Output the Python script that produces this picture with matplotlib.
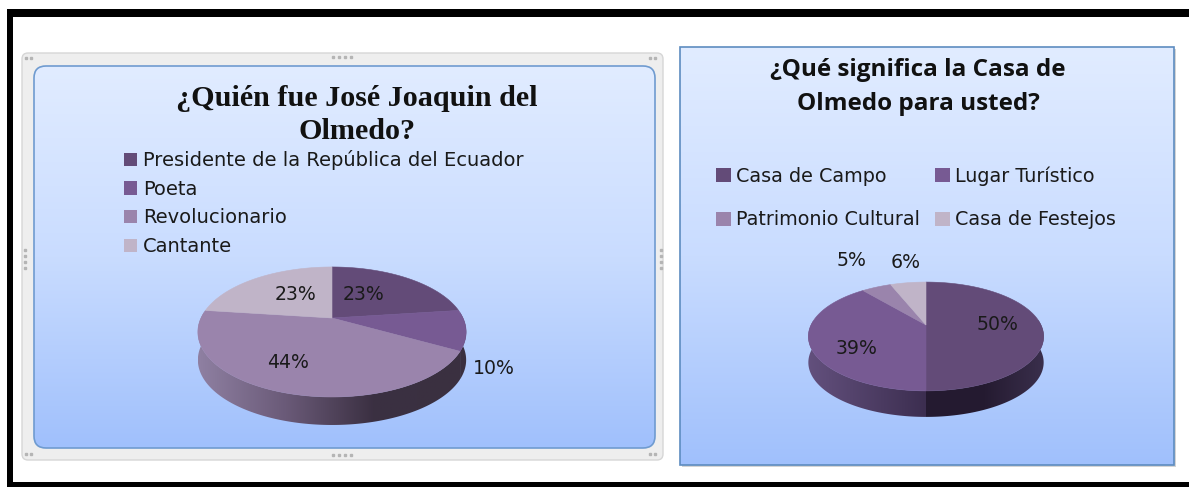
import numpy as np
import matplotlib
matplotlib.use("Agg")
import matplotlib.pyplot as plt
from matplotlib.colors import LinearSegmentedColormap
from matplotlib.patches import FancyBboxPatch, PathPatch, Rectangle, Polygon
from matplotlib.path import Path

# ---- data ----
left_title = "¿Quién fue José Joaquin del\nOlmedo?"
left_labels = ["Presidente de la República del Ecuador", "Poeta", "Revolucionario", "Cantante"]
left_values = [23, 10, 44, 23]
right_title = "¿Qué significa la Casa de\nOlmedo para usted?"
right_labels = ["Casa de Campo", "Lugar Turístico", "Patrimonio Cultural", "Casa de Festejos"]
right_values = [50, 39, 5, 6]

# ---- style ----
slice_colors = ["#634b78", "#775a93", "#9a84ac", "#c0b4c8"]
W, H = 1189, 487
fig = plt.figure(figsize=(W / 100, H / 100), dpi=100, facecolor="white")
ax = fig.add_axes([0, 0, 1, 1])
bg_cmap = LinearSegmentedColormap.from_list("bg", ["#e1ecff", "#c9dcff", "#a0c0fc"])
ramp = np.linspace(0, 1, 256).reshape(-1, 1)


def gradient_panel(x0, y0, x1, y1, rounding, edge):
    if rounding:
        patch = FancyBboxPatch((x0 + rounding, y0 + rounding), x1 - x0 - 2 * rounding, y1 - y0 - 2 * rounding,
                               boxstyle=f"round,pad={rounding},rounding_size={rounding}",
                               fc="none", ec=edge, lw=1.2, zorder=3)
    else:
        patch = Rectangle((x0, y0), x1 - x0, y1 - y0, fc="none", ec=edge, lw=1.2, zorder=3)
    ax.add_patch(patch)
    im = ax.imshow(ramp, extent=(x0, x1, y1, y0), cmap=bg_cmap, aspect="auto", zorder=2)
    im.set_clip_path(patch)


def pie3d(values, labels, cx, apex_y, half_w, persp, scale_y, depth, wall_colors, text_pos):
    wedges, _ = ax.pie(values, startangle=90, counterclock=False, colors=slice_colors, normalize=True)
    spans = [(w.theta1, w.theta2) for w in wedges]
    for w in wedges:
        w.remove()

    def project(t):
        u, v = np.cos(np.radians(t)), np.sin(np.radians(t))
        d = 1 + persp * v
        return cx + half_w * u / d, apex_y - scale_y * v / d

    # side wall, one clipped gradient per slice
    for (t1, t2), cols in zip(spans, wall_colors):
        if cols is None:
            continue
        t = np.linspace(t1, t2, 240)
        t = t[np.sin(np.radians(t)) < 0.1]
        px, py = project(t)
        verts = np.r_[np.c_[px, py], np.c_[px, py + depth][::-1]]
        poly = Polygon(verts, closed=True, fc="none", ec="none", zorder=4)
        ax.add_patch(poly)
        cm = LinearSegmentedColormap.from_list("wall", cols)
        im = ax.imshow(np.linspace(0, 1, 256).reshape(1, -1), cmap=cm, aspect="auto", zorder=4,
                       extent=(px.min(), px.max(), py.max() + depth, py.min()))
        im.set_clip_path(poly)

    # top faces
    for (t1, t2), col in zip(spans, slice_colors):
        t = np.linspace(t1, t2, 160)
        px, py = project(t)
        verts = np.r_[[[cx, apex_y]], np.c_[px, py], [[cx, apex_y]]]
        codes = [Path.MOVETO] + [Path.LINETO] * (len(verts) - 2) + [Path.CLOSEPOLY]
        ax.add_patch(PathPatch(Path(verts, codes), fc=col, ec=col, lw=0.4, zorder=5))

    for v, (x, y) in zip(values, text_pos):
        ax.text(x, y, f"{v}%", ha="center", va="center", fontsize=13.6, color="#1a1a1a", zorder=6)


# outer black frame
for r in [(6.5, 9, W - 6.5, 8), (6.5, 9, 6.5, H - 9), (6.5, 482, W - 6.5, 5)]:
    ax.add_patch(Rectangle((r[0], r[1]), r[2], r[3], fc="black", ec="none", zorder=1))

# left chart: grey selection frame and blue plot area
ax.add_patch(FancyBboxPatch((28, 59), 629, 395, boxstyle="round,pad=6,rounding_size=6",
                            fc="#eeeeee", ec="#d6d6d6", lw=1, zorder=1))
gradient_panel(34, 66, 655, 448, 12, "#6f9bd0")
for x0, y0, n, dx, dy in [(333, 57, 4, 6, 0), (333, 455, 4, 6, 0), (25, 250, 4, 0, 6), (661, 250, 4, 0, 6),
                          (26, 58, 2, 5, 0), (650, 58, 2, 5, 0), (26, 454, 2, 5, 0), (650, 454, 2, 5, 0)]:
    ax.plot([x0 + i * dx for i in range(n)], [y0 + i * dy for i in range(n)], ls="none", marker="s",
            ms=1.5, color="#b5b5b5", zorder=3)

# right chart panel with soft shadow
ax.add_patch(Rectangle((682, 49), 494, 418, fc="#d4d4d4", ec="none", zorder=1))
gradient_panel(680, 47, 1174, 465, 0, "#5d8cc0")

# titles
ax.text(357, 115, left_title, ha="center", va="center", fontsize=21.7, fontweight="bold",
        family="Liberation Serif", color="#111111", linespacing=1.3, zorder=6)
ax.text(918, 87, right_title, ha="center", va="center", fontsize=17.5, fontweight="bold",
        family="Open Sans", color="#111111", linespacing=1.54, zorder=6)

# pies
pie3d(left_values, left_labels, 332, 318, 131, 0.215, 62, 28,
      [None,
       ["#3a3040", "#3a3040"],
       ["#8f80a2", "#6a5a78", "#3b3042", "#3a3040"],
       None],
      [(364, 295), (494, 369), (288, 363), (296, 295)])
pie3d(right_values, right_labels, 926, 325, 115, 0.211, 52, 26,
      [["#241a30", "#251b31", "#3a2f4c"],
       ["#63507d", "#3c2e50"],
       None, None],
      [(998, 324), (857, 348), (851, 260), (906, 262)])

# legends, from proxies coloured like the slices
def handles(labels):
    return [Rectangle((0, 0), 1, 1, fc=c, ec="none", label=l) for c, l in zip(slice_colors, labels)]

leg1 = ax.legend(handles=handles(left_labels), loc="upper left", bbox_to_anchor=(124, 150),
                 bbox_transform=ax.transData, frameon=False, fontsize=14, labelspacing=0.5,
                 handlelength=0.67, handleheight=0.67, handletextpad=0.31, borderpad=0, borderaxespad=0,
                 labelcolor="#1a1a1a")
leg1.set_zorder(6)
ax.add_artist(leg1)
h2 = handles(right_labels)
order = [0, 2, 1, 3]
leg2 = ax.legend(handles=[h2[i] for i in order], loc="upper left", bbox_to_anchor=(716, 166),
                 bbox_transform=ax.transData, frameon=False, fontsize=13.8, ncols=2, labelspacing=1.3,
                 columnspacing=0.78, handlelength=0.78, handleheight=0.78, handletextpad=0.26, borderpad=0,
                 borderaxespad=0, labelcolor="#1a1a1a")
leg2.set_zorder(6)

ax.axis("off")
ax.set_aspect("auto")
ax.set_xlim(0, W)
ax.set_ylim(H, 0)
fig.savefig("out.png", dpi=100, facecolor="white")
